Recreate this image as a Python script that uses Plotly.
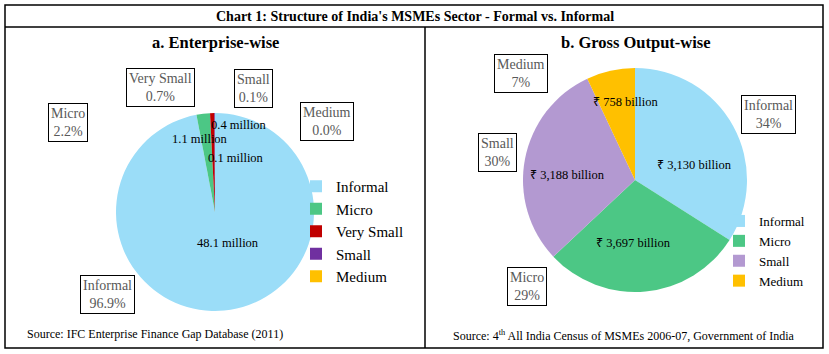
import plotly.graph_objects as go

W, H = 829, 354
FONT = "Liberation Serif"

# ---- data ----
ent_labels = ["Informal", "Micro", "Very Small", "Small", "Medium"]
ent_share = [96.9, 2.2, 0.7, 0.1, 0.0]          # % of enterprises
ent_count = [48.1, 1.1, 0.4, 0.1, None]           # million enterprises
ent_colors = ["#9BDDF8", "#4CC785", "#C00000", "#7030A0", "#FFC000"]

out_labels = ["Informal", "Micro", "Small", "Medium"]
out_share = [34, 29, 30, 7]                       # % of gross output
out_value = ["3,130", "3,697", "3,188", "758"]   # ₹ billion
out_colors = ["#9BDDF8", "#4CC785", "#B399D1", "#FFC000"]

# ---- layout helpers (pixel -> paper) ----
def px(x):
    return x / W

def py(y):
    return 1 - y / H

fig = go.Figure()

fig.add_trace(go.Pie(
    labels=ent_labels, values=ent_share, sort=False, direction="clockwise",
    rotation=0, marker=dict(colors=ent_colors, line=dict(width=0)),
    textinfo="none", hoverinfo="label+percent",
    domain=dict(x=[px(116), px(314)], y=[py(311), py(113)]),
    legend="legend", showlegend=True,
))
# trailing no-break space keeps the second pie's legend entries separate
fig.add_trace(go.Pie(
    labels=[l + "\u00a0" for l in out_labels], values=out_share, sort=False,
    direction="clockwise", rotation=0,
    marker=dict(colors=out_colors, line=dict(width=0)),
    textinfo="none", hoverinfo="label+percent",
    domain=dict(x=[px(523), px(747)], y=[py(292), py(68)]),
    legend="legend2", showlegend=True,
))

ann = []
def text(x, y, s, size=13, color="black", **kw):
    ann.append(dict(x=px(x), y=py(y), xref="paper", yref="paper", text=s,
                    showarrow=False, font=dict(family=FONT, size=size, color=color),
                    xanchor=kw.pop("xanchor", "center"), yanchor="middle", **kw))

def box(x, y, s):
    text(x, y, s, size=14, color="#595959", bordercolor="black", borderwidth=1,
         borderpad=2, bgcolor="white", align="center")

# titles
text(415, 16, "<b>Chart 1: Structure of India's MSMEs Sector - Formal vs. Informal</b>", size=14)
text(215, 42, "<b>a. Enterprise-wise</b>", size=16.5)
text(636, 42, "<b>b. Gross Output-wise</b>", size=16.5)

# category boxes, enterprise-wise
ent_box_pos = [(107, 294), (68, 123), (160, 87), (254, 88), (327, 121)]
for lab, sh, (bx, by) in zip(ent_labels, ent_share, ent_box_pos):
    box(bx, by, f"{lab}<br>{sh:.1f}%")

# value labels, enterprise-wise
ent_val_pos = [(228, 243), (200, 139), (239, 125), (236, 158)]
for v, (vx, vy) in zip(ent_count, ent_val_pos):
    text(vx, vy, f"{v:.1f} million", size=12.5)

# category boxes, output-wise
out_box_pos = [(768, 115), (527, 286), (498, 153), (521, 74)]
for lab, sh, (bx, by) in zip(out_labels, out_share, out_box_pos):
    box(bx, by, f"{lab}<br>{sh}%")

out_val_pos = [(694, 165), (633, 243), (567, 175), (625, 102)]
for v, (vx, vy) in zip(out_value, out_val_pos):
    text(vx, vy, f"₹ {v} billion", size=12.5)

# sources
text(25, 334, "Source: IFC Enterprise Finance Gap Database (2011)", size=12, xanchor="left")
text(451, 335, "Source: 4<sup>th</sup> All India Census of MSMEs 2006-07, Government of India",
     size=12, xanchor="left")

shapes = [
    dict(type="rect", xref="paper", yref="paper", x0=px(5), x1=px(823), y0=py(348), y1=py(5),
         line=dict(color="black", width=1.5)),
    dict(type="line", xref="paper", yref="paper", x0=px(5), x1=px(823), y0=py(27), y1=py(27),
         line=dict(color="black", width=1.5)),
    dict(type="line", xref="paper", yref="paper", x0=px(425), x1=px(425), y0=py(348), y1=py(27),
         line=dict(color="black", width=1.5)),
]

legend_common = dict(bgcolor="rgba(0,0,0,0)", borderwidth=0, xanchor="left", yanchor="top",
                     itemwidth=30, tracegroupgap=0)

fig.update_layout(
    width=W, height=H, margin=dict(l=0, r=0, t=0, b=0),
    paper_bgcolor="white", plot_bgcolor="white",
    font=dict(family=FONT, size=13, color="black"),
    annotations=ann, shapes=shapes,
    legend=dict(x=px(296), y=py(170), font=dict(family=FONT, size=15, color="black"),
                **legend_common),
    legend2=dict(x=px(719), y=py(206), font=dict(family=FONT, size=13, color="black"),
                 **legend_common),
)

fig.write_html("out.html")
